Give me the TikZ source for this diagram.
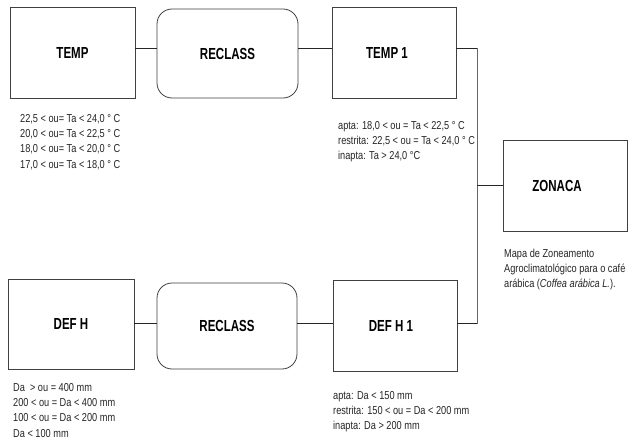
\documentclass[tikz,border=0pt]{standalone}
\usepackage{fontspec}
\setmainfont{Liberation Sans}
\newfontfamily\smallfont[FakeStretch=0.8]{Liberation Sans}
\newfontfamily\labfont[FakeStretch=0.72]{Liberation Sans}
\begin{document}
\begin{tikzpicture}[x=1pt,y=-1pt,
  box/.style={draw=black!75,line width=0.8pt,inner sep=0pt,font=\labfont\bfseries\fontsize{16}{18}\selectfont,text=black},
  rbox/.style={box,rounded corners=15pt},
  note/.style={anchor=base west,inner sep=0pt,align=left,text=black!85,font=\smallfont\fontsize{11.5}{15.3}\selectfont},
  wire/.style={draw=black!85,line width=0.8pt},
  bus/.style={draw=black!60,line width=0.9pt}]
\useasboundingbox (0,0) rectangle (630,447);
\fill[white] (0,0) rectangle (630,447);
% boxes
\node[box,minimum width=125pt,minimum height=91pt] (temp) at (72.5,52.5) {TEMP};
\node[rbox,minimum width=141pt,minimum height=89pt] (rec1) at (227.5,53.5) {RECLASS};
\node[box,minimum width=124pt,minimum height=91pt] (temp1) at (394,52.5) {TEMP 1\hspace*{14pt}};
\node[box,minimum width=124pt,minimum height=91pt] (zonaca) at (565,185.5) {ZONACA\hspace*{16pt}};
\node[box,minimum width=126pt,minimum height=90pt] (defh) at (71,324) {DEF H};
\node[rbox,minimum width=140pt,minimum height=86pt] (rec2) at (227,326) {RECLASS};
\node[box,minimum width=124pt,minimum height=91pt] (defh1) at (395,325.5) {DEF H 1\hspace*{8pt}};
% helper coordinates
\coordinate (ytop) at (0,48);
\coordinate (ybot) at (0,323.5);
\coordinate (junc) at (477,323.5);
% connectors
\draw[wire] (temp.east |- ytop) -- (rec1.west |- ytop);
\draw[wire] (rec1.east |- ytop) -- (temp1.west |- ytop);
\draw[wire] (temp1.east |- ytop) -- (ytop -| junc);
\draw[bus] (ytop -| junc) -- (junc);
\draw[wire] (junc) -- (defh1.east |- junc);
\draw[wire] (zonaca.west) -- (zonaca.west -| junc);
\draw[wire] (defh.east |- ybot) -- (rec2.west |- ybot);
\draw[wire] (rec2.east |- ybot) -- (defh1.west |- ybot);
% notes (anchor = baseline of last line)
\node[note] (ntemp) at (20,168) {22,5 < ou= Ta < 24,0 ° C\\20,0 < ou= Ta < 22,5 ° C\\18,0 < ou= Ta < 20,0 ° C\\17,0 < ou= Ta < 18,0 ° C};
\node[note] (ntemp1) at (338,159.6) {apta: 18,0 < ou = Ta < 22,5 ° C\\restrita: 22,5 < ou = Ta < 24,0 ° C\\inapta: Ta > 24,0 °C};
\node[note] (nzon) at (504,287.6) {Mapa de Zoneamento\\Agroclimatológico para o café\\arábica (\textit{Coffea arábica L.}).};
\node[note] (ndefh) at (13,437) {Da \ > ou = 400 mm\\200 < ou = Da < 400 mm\\100 < ou = Da < 200 mm\\Da < 100 mm};
\node[note] (ndefh1) at (333,429.6) {apta: Da < 150 mm\\restrita: 150 < ou = Da < 200 mm\\inapta: Da > 200 mm};
\end{tikzpicture}
\end{document}
